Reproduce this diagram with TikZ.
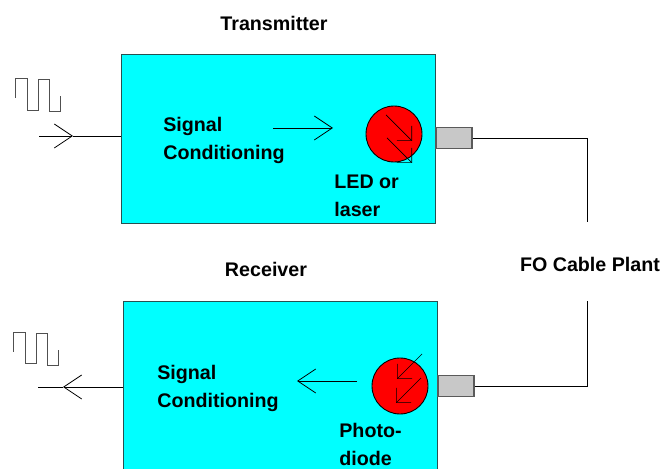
\documentclass[tikz,border=0pt]{standalone}
\usepackage{fontspec}
\setmainfont{Liberation Sans}
\usetikzlibrary{arrows.meta, calc}
\definecolor{boxCyan}{RGB}{0,255,255}
\definecolor{boxEdge}{RGB}{40,80,80}
\definecolor{diodeRed}{RGB}{255,0,0}
\definecolor{plugGrey}{RGB}{200,200,200}
\definecolor{plugEdge}{RGB}{90,90,90}
\definecolor{waveGrey}{RGB}{80,80,80}

\begin{document}
\begin{tikzpicture}[
  x=0.02cm, y=-0.02cm,
  unitbox/.style={draw=boxEdge, line width=0.5pt, fill=boxCyan, minimum width=6.28cm, inner sep=0pt},
  diode/.style={circle, draw=black, line width=0.5pt, fill=diodeRed, minimum size=1.12cm, inner sep=0pt},
  plug/.style={draw=plugEdge, line width=0.8pt, fill=plugGrey, minimum width=0.72cm, minimum height=0.42cm, inner sep=0pt},
  lbl/.style={font=\bfseries\fontsize{11.2}{15.9}\selectfont, align=left, inner sep=0pt},
  wire/.style={draw=black, line width=0.45pt},
  bigTip/.style={-{Straight Barb[length=0.36cm, width=0.48cm]}},
  rayTip/.style={line width=0.4pt, -{Straight Barb[length=0.21cm, width=0.42cm]}},
  wave/.style={draw=waveGrey, line width=0.55pt}
]
\useasboundingbox (0,0) rectangle (663,469);

\node[unitbox, minimum height=3.38cm] (txBox) at (278,138.5) {};
\node[unitbox, minimum height=3.36cm] (rxBox) at (280,385) {};
\node[diode] (led) at (394,134) {};
\node[diode] (photo) at (400,386) {};
\node[plug] (txPlug) at (454,138) {};
\node[plug] (rxPlug) at (456,386) {};

\node[lbl] (txTitle) at (274,23.5) {Transmitter};
\node[lbl] (rxTitle) at (266,269.5) {Receiver};
\node[lbl] (fiberLbl) at (590,264) {FO Cable Plant};
\node[lbl, anchor=west] (txCond) at (163,140.5) {Signal\\Conditioning};
\node[lbl, anchor=west] (rxCond) at (157,388) {Signal\\Conditioning};
\node[lbl, anchor=west] (ledLbl) at (334,196) {LED or\\laser};
\node[lbl, anchor=west] (photoLbl) at (339,444.5) {Photo-\\diode};

\coordinate (inEnd) at (39,136);
\coordinate (inHead) at (73,136);
\coordinate (outHead) at (63,387);
\coordinate (outEnd) at (38,387);
\coordinate (txFrom) at (273,128);
\coordinate (txTo) at (333,128);
\coordinate (rxFrom) at (357,381);
\coordinate (rxTo) at (297,381);
\coordinate (fiberTop) at (587,222);
\coordinate (fiberBot) at (587,301);

% Signal in and out
\draw[wire, bigTip] (inEnd) -- (inHead);
\draw[wire] (inHead) -- (inHead -| txBox.west);
\draw[wire, bigTip] (outHead -| rxBox.west) -- (outHead);
\draw[wire] (outHead) -- (outEnd);

% Inside the boxes
\draw[wire, bigTip] (txFrom) -- (txTo);
\draw[wire, bigTip] (rxFrom) -- (rxTo);

% Fibre
\draw[wire] (txPlug.east) -| (fiberTop);
\draw[wire] (rxPlug.east) -| (fiberBot);

% Light rays
\draw[rayTip] (386,115) -- (412,141);
\draw[rayTip] (387,138) -- (412,163);
\draw[rayTip] (422,354) -- (397,379);
\draw[rayTip] (421,378) -- (396,403);

% Pulse trains
\draw[wave] (15,98) |- (27,78) |- (38,110) |- (49,79) |- (60,111) -- (60,96);
\draw[wave] (13,352) |- (25,332) |- (36,363) |- (47,333) |- (58,365) -- (58,350);

\end{tikzpicture}
\end{document}
